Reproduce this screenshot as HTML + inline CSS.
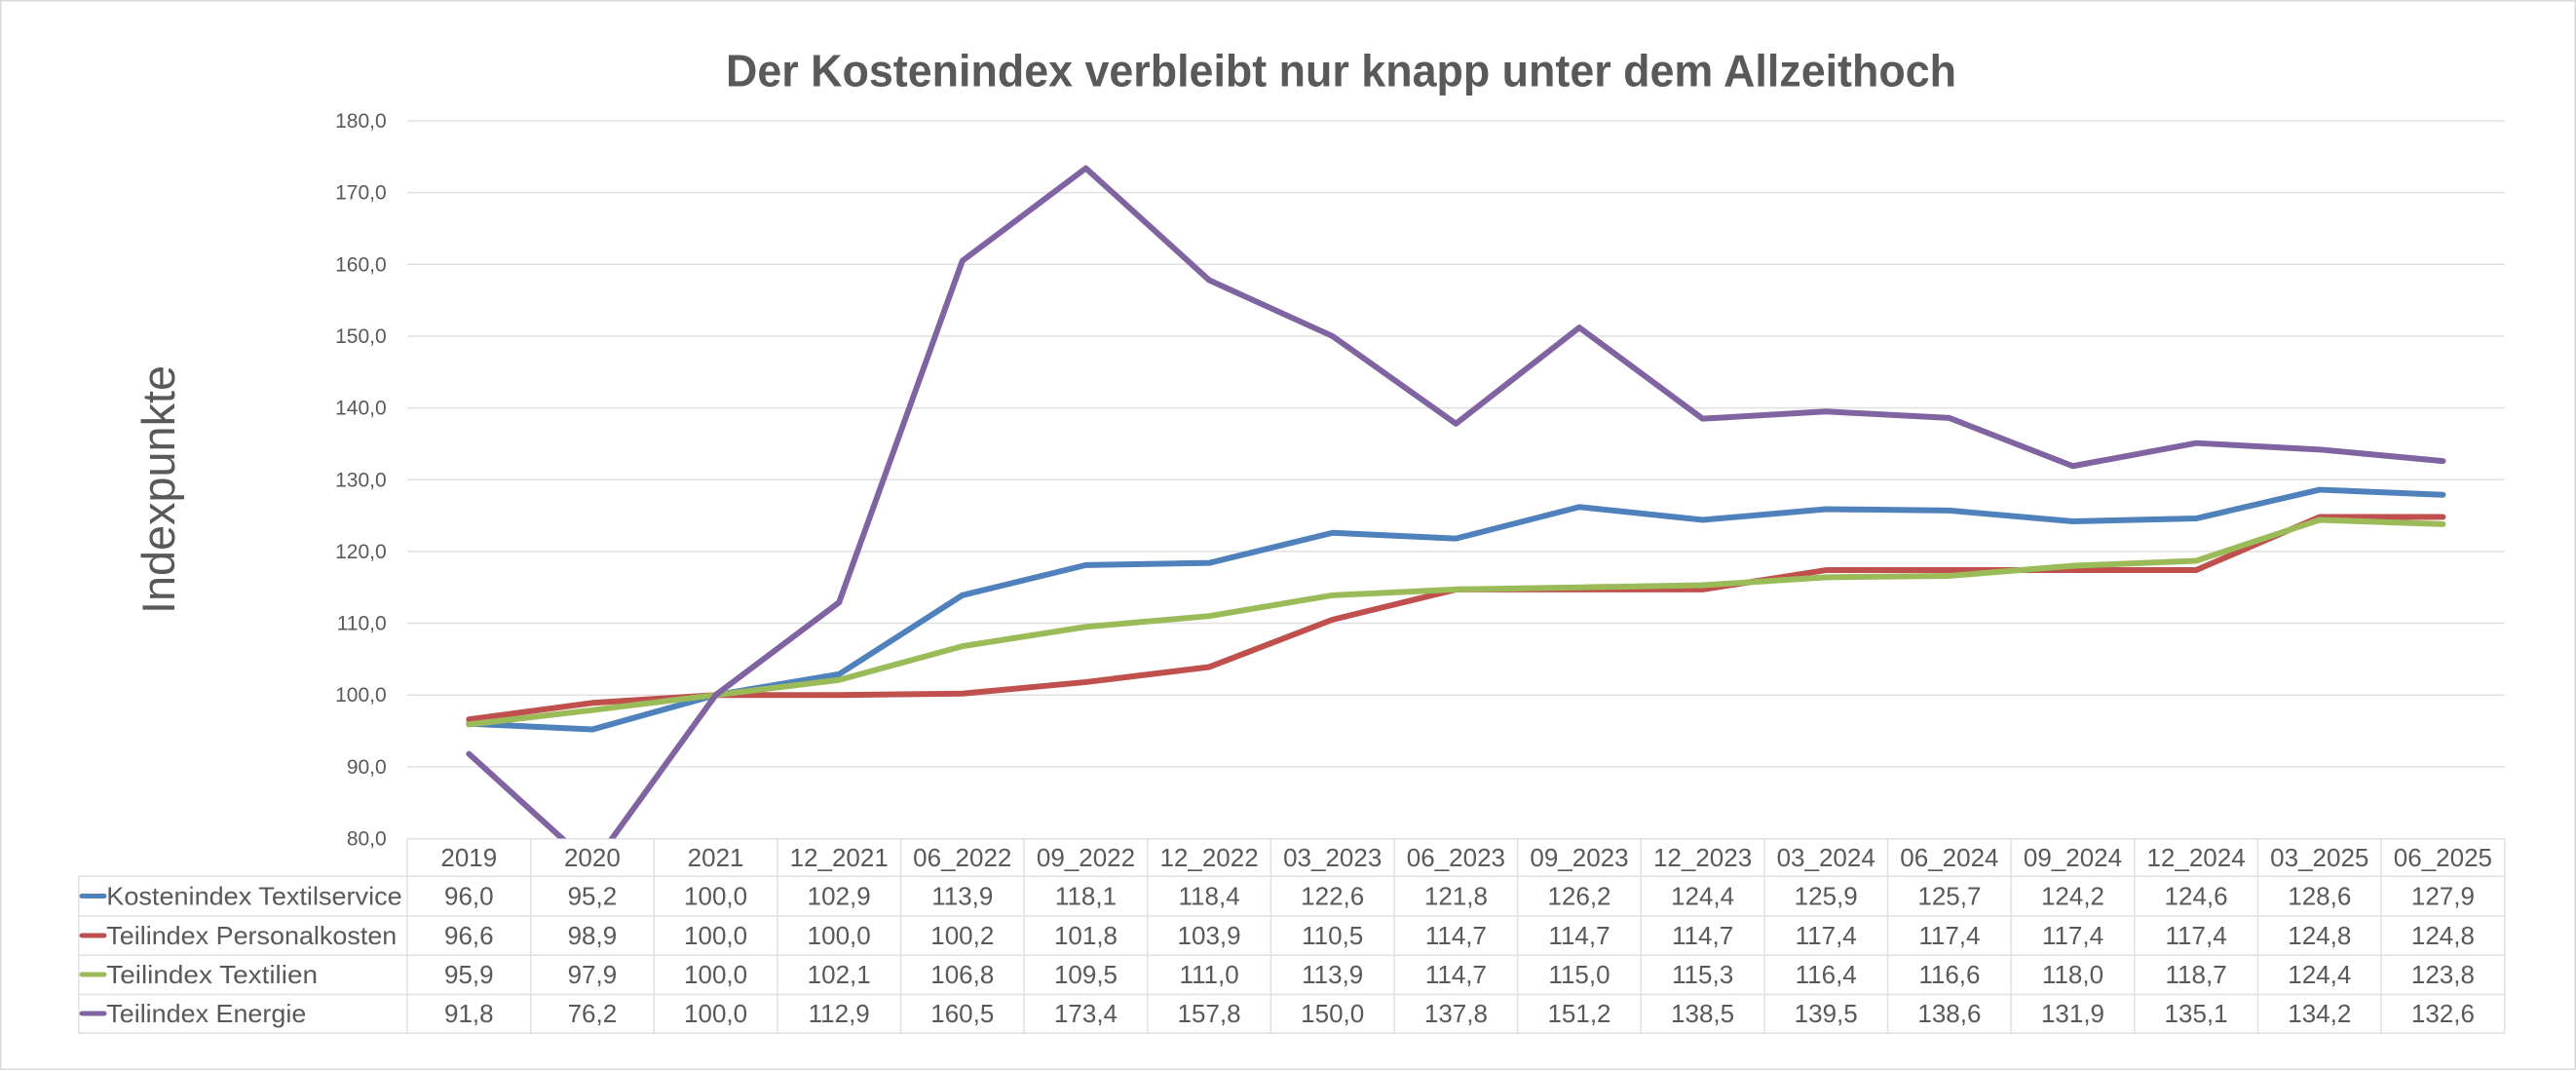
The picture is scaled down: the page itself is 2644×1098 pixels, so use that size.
<!DOCTYPE html>
<html><head><meta charset="utf-8"><style>
html,body{margin:0;padding:0;background:#fff;}
svg{display:block;}
text{font-family:"Liberation Sans",Arial,sans-serif;fill:#595959;}
</style></head><body>
<svg width="2644" height="1098" viewBox="0 0 2644 1098" xmlns="http://www.w3.org/2000/svg">
<rect x="0.75" y="0.75" width="2642.5" height="1096.5" fill="#fff" stroke="#d9d9d9" stroke-width="1.5"/>
<text x="745" y="88.3" font-size="46" font-weight="bold" textLength="1263" lengthAdjust="spacingAndGlyphs">Der Kostenindex verbleibt nur knapp unter dem Allzeithoch</text>
<text transform="translate(179,502.5) rotate(-90)" x="0" y="0" font-size="47" text-anchor="middle" textLength="255" lengthAdjust="spacingAndGlyphs">Indexpunkte</text>
<g stroke="#e0e0e0" stroke-width="1.5">
<line x1="418" y1="124" x2="2571" y2="124"/>
<line x1="418" y1="197.65" x2="2571" y2="197.65"/>
<line x1="418" y1="271.3" x2="2571" y2="271.3"/>
<line x1="418" y1="344.95" x2="2571" y2="344.95"/>
<line x1="418" y1="418.6" x2="2571" y2="418.6"/>
<line x1="418" y1="492.25" x2="2571" y2="492.25"/>
<line x1="418" y1="565.9" x2="2571" y2="565.9"/>
<line x1="418" y1="639.55" x2="2571" y2="639.55"/>
<line x1="418" y1="713.2" x2="2571" y2="713.2"/>
<line x1="418" y1="786.85" x2="2571" y2="786.85"/>
</g>
<g font-size="21" text-anchor="end">
<text x="396.7" y="131">180,0</text>
<text x="396.7" y="204.65">170,0</text>
<text x="396.7" y="278.3">160,0</text>
<text x="396.7" y="351.95">150,0</text>
<text x="396.7" y="425.6">140,0</text>
<text x="396.7" y="499.25">130,0</text>
<text x="396.7" y="572.9">120,0</text>
<text x="396.7" y="646.55">110,0</text>
<text x="396.7" y="720.2">100,0</text>
<text x="396.7" y="793.85">90,0</text>
<text x="396.7" y="867.5">80,0</text>
</g>
<!-- table grid -->
<g stroke="#e0e0e0" stroke-width="1.5" fill="none">
<line x1="418" y1="860.7" x2="2570.7" y2="860.7"/>
<line x1="80.7" y1="899.3" x2="2570.7" y2="899.3"/>
<line x1="80.7" y1="940" x2="2570.7" y2="940"/>
<line x1="80.7" y1="980.3" x2="2570.7" y2="980.3"/>
<line x1="80.7" y1="1020.5" x2="2570.7" y2="1020.5"/>
<line x1="80.7" y1="1060.3" x2="2570.7" y2="1060.3"/>
<line x1="80.7" y1="899.3" x2="80.7" y2="1060.3"/>
<line x1="418" y1="860.7" x2="418" y2="1060.3"/>
<line x1="544.63" y1="860.7" x2="544.63" y2="1060.3"/>
<line x1="671.26" y1="860.7" x2="671.26" y2="1060.3"/>
<line x1="797.89" y1="860.7" x2="797.89" y2="1060.3"/>
<line x1="924.52" y1="860.7" x2="924.52" y2="1060.3"/>
<line x1="1051.15" y1="860.7" x2="1051.15" y2="1060.3"/>
<line x1="1177.78" y1="860.7" x2="1177.78" y2="1060.3"/>
<line x1="1304.41" y1="860.7" x2="1304.41" y2="1060.3"/>
<line x1="1431.04" y1="860.7" x2="1431.04" y2="1060.3"/>
<line x1="1557.67" y1="860.7" x2="1557.67" y2="1060.3"/>
<line x1="1684.3" y1="860.7" x2="1684.3" y2="1060.3"/>
<line x1="1810.93" y1="860.7" x2="1810.93" y2="1060.3"/>
<line x1="1937.56" y1="860.7" x2="1937.56" y2="1060.3"/>
<line x1="2064.19" y1="860.7" x2="2064.19" y2="1060.3"/>
<line x1="2190.82" y1="860.7" x2="2190.82" y2="1060.3"/>
<line x1="2317.45" y1="860.7" x2="2317.45" y2="1060.3"/>
<line x1="2444.08" y1="860.7" x2="2444.08" y2="1060.3"/>
<line x1="2570.7" y1="860.7" x2="2570.7" y2="1060.3"/>
</g>
<defs><clipPath id="plot"><rect x="418" y="0" width="2153" height="860.5"/></clipPath></defs>
<g clip-path="url(#plot)" fill="none" stroke-width="6" stroke-linecap="round" stroke-linejoin="round">
<polyline stroke="#4F81BD" points="481.3,742.66 607.9,748.55 734.6,713.2 861.2,691.84 987.8,610.83 1114.5,579.89 1241.1,577.68 1367.7,546.75 1494.4,552.64 1621.0,520.24 1747.6,533.49 1874.2,522.45 2000.9,523.92 2127.5,534.97 2254.1,532.02 2380.8,502.56 2507.4,507.72"/>
<polyline stroke="#C0504D" points="481.3,738.24 607.9,721.30 734.6,713.2 861.2,713.2 987.8,711.73 1114.5,699.94 1241.1,684.48 1367.7,635.87 1494.4,604.93 1621.0,604.93 1747.6,604.93 1874.2,585.05 2000.9,585.05 2127.5,585.05 2254.1,585.05 2380.8,530.55 2507.4,530.55"/>
<polyline stroke="#9BBB59" points="481.3,743.40 607.9,728.67 734.6,713.2 861.2,697.73 987.8,663.12 1114.5,643.23 1241.1,632.18 1367.7,610.83 1494.4,604.93 1621.0,602.72 1747.6,600.52 1874.2,592.41 2000.9,590.94 2127.5,580.63 2254.1,575.47 2380.8,533.49 2507.4,537.91"/>
<polyline stroke="#8064A2" points="481.3,773.59 607.9,888.49 734.6,713.2 861.2,618.19 987.8,267.62 1114.5,172.61 1241.1,287.50 1367.7,344.95 1494.4,434.80 1621.0,336.11 1747.6,429.65 1874.2,422.28 2000.9,428.91 2127.5,478.26 2254.1,454.69 2380.8,461.32 2507.4,473.10"/>
</g>
<!-- legend keys -->
<g stroke-width="5" stroke-linecap="round">
<line x1="84" y1="919.5" x2="107" y2="919.5" stroke="#4F81BD"/>
<line x1="84" y1="960" x2="107" y2="960" stroke="#C0504D"/>
<line x1="84" y1="1000" x2="107" y2="1000" stroke="#9BBB59"/>
<line x1="84" y1="1040" x2="107" y2="1040" stroke="#8064A2"/>
</g>
<g font-size="26">
<text x="109.3" y="928.5" textLength="303.4" lengthAdjust="spacingAndGlyphs">Kostenindex Textilservice</text>
<text x="109.3" y="968.8" textLength="298" lengthAdjust="spacingAndGlyphs">Teilindex Personalkosten</text>
<text x="109.3" y="1009" textLength="216.7" lengthAdjust="spacingAndGlyphs">Teilindex Textilien</text>
<text x="109.3" y="1049" textLength="205" lengthAdjust="spacingAndGlyphs">Teilindex Energie</text>
</g>
<g font-size="26" text-anchor="middle">
<text x="481.3" y="889">2019</text><text x="607.9" y="889">2020</text><text x="734.6" y="889">2021</text><text x="861.2" y="889">12_2021</text><text x="987.8" y="889">06_2022</text><text x="1114.5" y="889">09_2022</text><text x="1241.1" y="889">12_2022</text><text x="1367.7" y="889">03_2023</text><text x="1494.4" y="889">06_2023</text><text x="1621.0" y="889">09_2023</text><text x="1747.6" y="889">12_2023</text><text x="1874.2" y="889">03_2024</text><text x="2000.9" y="889">06_2024</text><text x="2127.5" y="889">09_2024</text><text x="2254.1" y="889">12_2024</text><text x="2380.8" y="889">03_2025</text><text x="2507.4" y="889">06_2025</text>

<text x="481.3" y="928.5">96,0</text><text x="607.9" y="928.5">95,2</text><text x="734.6" y="928.5">100,0</text><text x="861.2" y="928.5">102,9</text><text x="987.8" y="928.5">113,9</text><text x="1114.5" y="928.5">118,1</text><text x="1241.1" y="928.5">118,4</text><text x="1367.7" y="928.5">122,6</text><text x="1494.4" y="928.5">121,8</text><text x="1621.0" y="928.5">126,2</text><text x="1747.6" y="928.5">124,4</text><text x="1874.2" y="928.5">125,9</text><text x="2000.9" y="928.5">125,7</text><text x="2127.5" y="928.5">124,2</text><text x="2254.1" y="928.5">124,6</text><text x="2380.8" y="928.5">128,6</text><text x="2507.4" y="928.5">127,9</text>

<text x="481.3" y="968.8">96,6</text><text x="607.9" y="968.8">98,9</text><text x="734.6" y="968.8">100,0</text><text x="861.2" y="968.8">100,0</text><text x="987.8" y="968.8">100,2</text><text x="1114.5" y="968.8">101,8</text><text x="1241.1" y="968.8">103,9</text><text x="1367.7" y="968.8">110,5</text><text x="1494.4" y="968.8">114,7</text><text x="1621.0" y="968.8">114,7</text><text x="1747.6" y="968.8">114,7</text><text x="1874.2" y="968.8">117,4</text><text x="2000.9" y="968.8">117,4</text><text x="2127.5" y="968.8">117,4</text><text x="2254.1" y="968.8">117,4</text><text x="2380.8" y="968.8">124,8</text><text x="2507.4" y="968.8">124,8</text>

<text x="481.3" y="1009">95,9</text><text x="607.9" y="1009">97,9</text><text x="734.6" y="1009">100,0</text><text x="861.2" y="1009">102,1</text><text x="987.8" y="1009">106,8</text><text x="1114.5" y="1009">109,5</text><text x="1241.1" y="1009">111,0</text><text x="1367.7" y="1009">113,9</text><text x="1494.4" y="1009">114,7</text><text x="1621.0" y="1009">115,0</text><text x="1747.6" y="1009">115,3</text><text x="1874.2" y="1009">116,4</text><text x="2000.9" y="1009">116,6</text><text x="2127.5" y="1009">118,0</text><text x="2254.1" y="1009">118,7</text><text x="2380.8" y="1009">124,4</text><text x="2507.4" y="1009">123,8</text>

<text x="481.3" y="1049">91,8</text><text x="607.9" y="1049">76,2</text><text x="734.6" y="1049">100,0</text><text x="861.2" y="1049">112,9</text><text x="987.8" y="1049">160,5</text><text x="1114.5" y="1049">173,4</text><text x="1241.1" y="1049">157,8</text><text x="1367.7" y="1049">150,0</text><text x="1494.4" y="1049">137,8</text><text x="1621.0" y="1049">151,2</text><text x="1747.6" y="1049">138,5</text><text x="1874.2" y="1049">139,5</text><text x="2000.9" y="1049">138,6</text><text x="2127.5" y="1049">131,9</text><text x="2254.1" y="1049">135,1</text><text x="2380.8" y="1049">134,2</text><text x="2507.4" y="1049">132,6</text>
</g>
</svg>
</body></html>
